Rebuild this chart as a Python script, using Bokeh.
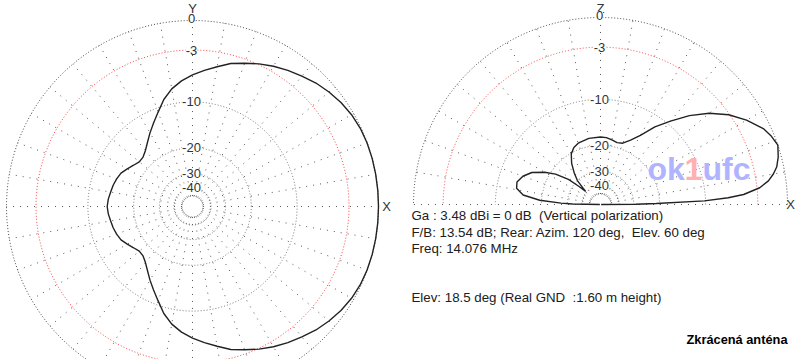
import numpy as np
from bokeh.plotting import figure
from bokeh.models import Range1d, ColumnDataSource, LabelSet
from bokeh.core.properties import value
from bokeh.embed import file_html
from bokeh.resources import INLINE

# ---------------- data ----------------
# Azimuth pattern (horizontal plane, symmetric about X axis), dB vs. degrees
az_deg = [0, 5, 10, 15, 20, 25, 30, 35, 40, 45, 50, 55, 60, 65, 70, 75, 80, 85, 90,
          95, 100, 105, 110, 115, 120, 125, 130, 135, 140, 145, 150, 155, 160, 165, 170, 175, 180]
az_db = [0, 0, 0, 0, -0.02, -0.08, -0.22, -0.45, -0.75, -1.1, -1.55, -1.95, -2.4, -2.9, -3.45, -3.97, -4.7, -5.35, -6.0,
         -6.75, -7.7, -9.0, -10.7, -12.2, -13.6, -15.0, -16.2, -17.0, -17.1, -16.5, -15.7, -14.9, -14.5, -14.2, -14.0, -13.7, -13.54]

# Elevation pattern (vertical plane), dB vs. degrees above +X horizon
el_deg = [0, 0.5, 1, 2, 3, 4, 6, 8, 10, 12, 15, 18.5, 22, 25, 30, 35, 40, 45, 50, 55, 60, 65, 70, 75,
          80, 85, 90, 100, 110, 115, 120, 125, 130, 134, 137, 138.5, 140, 142, 146, 150, 155, 160, 165,
          169, 173, 176, 178, 179, 180]
el_db = [-99, -29, -21, -10.2, -6.6, -4.6, -2.7, -1.7, -1.1, -0.65, -0.28, 0, -0.3, -0.7, -1.8, -3.1, -4.8, -6.9, -9.4, -11.8,
         -14.8, -16.8, -18.3, -18.6, -18.2, -17.8, -17.7, -17.8, -18.3, -18.9, -20.2, -22.8, -26.5, -30, -36, -39, -33,
         -26.5, -21.5, -18.5, -15.7, -14.2, -13.4, -13.6, -15.2, -19.5, -27, -33, -99]

ring_db = [0, -3, -10, -20, -30, -40, -50]
ring_labels = ["0", "-3", "-10", "-20", "-30", "-40", ""]

info_lines = ["Ga : 3.48 dBi = 0 dB  (Vertical polarization)",
              "F/B: 13.54 dB; Rear: Azim. 120 deg,  Elev. 60 deg",
              "Freq: 14.076 MHz",
              "Elev: 18.5 deg (Real GND  :1.60 m height)"]
title_text = "Zkrácená anténa"
watermark = ["ok", "1", "ufc"]

# ---------------- layout ----------------
W, H = 800, 359
L_CX, L_CY, L_R = 192, 206, 186
R_CX, R_CY, R_R = 600, 204, 187
FONT = value("Liberation Sans")


def rad(db, R):
    return R * 10 ** (np.asarray(db, dtype=float) / 40.0)


p = figure(width=W, height=H, x_range=Range1d(0, W), y_range=Range1d(H, 0),
           output_backend="svg", toolbar_location=None, min_border=0,
           x_axis_location=None, y_axis_location=None)
p.grid.visible = False
p.outline_line_color = None
p.background_fill_color = "white"
p.border_fill_color = "white"


def draw_grid(cx, cy, R, full):
    a_end = 2 * np.pi if full else np.pi
    t = np.linspace(0, a_end, 721)
    r_in = float(rad(-50, R))
    n = 36 if full else 19
    for k in range(n):
        a = np.deg2rad(10 * k)
        p.line([cx + r_in * np.cos(a), cx + R * np.cos(a)],
               [cy - r_in * np.sin(a), cy - R * np.sin(a)],
               line_color="#555555", line_width=1, line_dash="1 6")
    for db in ring_db:
        r = float(rad(db, R))
        if db == 0:
            col = "#444444"
        elif db == -3:
            col = "#ff4040"
        else:
            col = "#777777"
        p.line(cx + r * np.cos(t), cy - r * np.sin(t),
               line_color=col, line_width=1, line_dash="1 2")


draw_grid(L_CX, L_CY, L_R, True)
draw_grid(R_CX, R_CY, R_R, False)

# ring labels
for cx, cy, R in [(L_CX, L_CY, L_R), (R_CX, R_CY, R_R)]:
    ys = list(cy - rad(ring_db[:-1], R))
    ys[0] -= 2
    src = ColumnDataSource(dict(x=[cx - 1] * len(ys), y=ys, t=ring_labels[:-1]))
    p.add_layout(LabelSet(x="x", y="y", text="t", source=src, text_align="center",
                          text_baseline="middle", text_font=FONT, text_font_size="13px",
                          text_color="#333333", background_fill_color="white"))

# axis letters
p.text(x=[L_CX, L_CX + 194, R_CX, R_CX + 190], y=[8, L_CY, 8, R_CY],
       text=["Y", "X", "Z", "X"], text_align="center", text_baseline="middle",
       text_font=FONT, text_font_size="13px", text_color="#333333")

# azimuth pattern (mirror)
az_a = np.deg2rad(np.array(az_deg, dtype=float))
az_r = rad(az_db, L_R)
a_full = np.concatenate([az_a, 2 * np.pi - az_a[::-1][1:]])
r_full = np.concatenate([az_r, az_r[::-1][1:]])
p.line(L_CX + r_full * np.cos(a_full), L_CY - r_full * np.sin(a_full),
       line_color="#222222", line_width=1.4)

# elevation pattern
el_a = np.deg2rad(np.array(el_deg, dtype=float))
el_r = rad(el_db, R_R)
p.line(R_CX + el_r * np.cos(el_a), R_CY - el_r * np.sin(el_a),
       line_color="#222222", line_width=1.4)

# watermark
WM = dict(y=[168], text_baseline="alphabetic", text_font=FONT,
          text_font_size="32px", text_font_style="bold")
p.text(x=[647], text=[watermark[0]], text_color="#b0b4ff", **WM)
p.text(x=[684], text=[watermark[1]], text_color="#ffb0b0", **WM)
p.text(x=[702], text=[watermark[2]], text_color="#b0b4ff", **WM)

# info text (keep double spaces visible)
shown = [s.replace("  ", " \u00a0") for s in info_lines]
p.text(x=[411] * 4, y=[215, 232, 248, 297], text=shown, text_baseline="middle",
       text_font=FONT, text_font_size="13.3px", text_color="#202020")
p.text(x=[787], y=[339], text=[title_text], text_align="right", text_baseline="middle",
       text_font=FONT, text_font_size="12.8px", text_font_style="bold", text_color="#000000")

open("out.html", "w").write(file_html(p, INLINE))
